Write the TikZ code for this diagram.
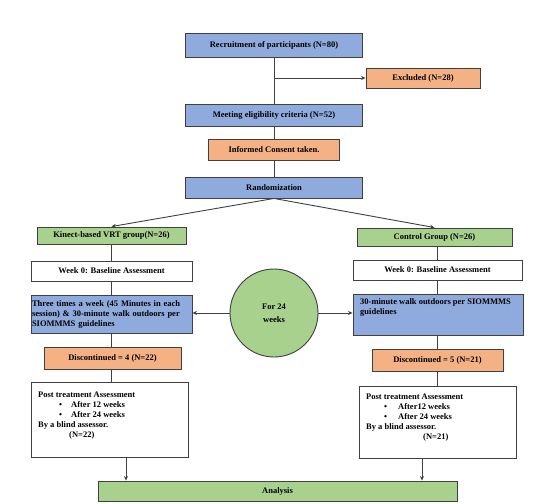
\documentclass[tikz,border=0pt]{standalone}
\usepackage{fontspec}
\setmainfont{Liberation Serif}
\usetikzlibrary{arrows.meta}
\definecolor{bluef}{HTML}{8FAADC}
\definecolor{orangef}{HTML}{F4B183}
\definecolor{greenf}{HTML}{A9D18E}
\definecolor{bord}{HTML}{404040}
\begin{document}
\begin{tikzpicture}[x=1pt,y=-1pt,
  box/.style={draw=bord, line width=0.9pt, inner sep=0pt, align=center,
    font=\bfseries\fontsize{8.5}{10}\selectfont},
  bluebox/.style={box, fill=bluef},
  orangebox/.style={box, fill=orangef},
  greenbox/.style={box, fill=greenf},
  whitebox/.style={box, fill=white},
  txt/.style={inner sep=0pt, align=left, font=\bfseries\fontsize{8.5}{10}\selectfont},
  conn/.style={draw=bord, line width=0.9pt},
  arr/.style={conn, -{Stealth[length=4.5pt,width=4pt]}}
]
\useasboundingbox (0,0) rectangle (550,504);
\fill[white] (0,0) rectangle (550,504);

% top column
\node[bluebox, minimum width=177pt, minimum height=24pt] (rec) at (274,45) {Recruitment of participants (N=80)};
\node[orangebox, minimum width=114pt, minimum height=20pt] (exc) at (423,78) {Excluded (N=28)};
\node[bluebox, minimum width=177pt, minimum height=22pt] (elig) at (274,115) {Meeting eligibility criteria (N=52)};
\node[orangebox, minimum width=131pt, minimum height=21pt] (cons) at (274,149.5) {Informed Consent taken.};
\node[bluebox, minimum width=177pt, minimum height=21pt] (rand) at (274,187.5) {Randomization};

% left column
\node[greenbox, minimum width=149pt, minimum height=17pt] (kin) at (111.5,235.5) {Kinect-based VRT group(N=26)};
\node[whitebox, minimum width=161pt, minimum height=20pt] (wkL) at (111.5,271) {Week 0: Baseline Assessment};
\node[bluebox, minimum width=161pt, minimum height=38pt, text width=159pt, align=left] (thL) at (111.5,314)
  {\fontsize{8.5}{10}\selectfont Three times a week (45 Minutes in each\\session) \& 30-minute walk outdoors per\\SIOMMMS guidelines};
\node[orangebox, minimum width=137pt, minimum height=22pt] (disL) at (112.5,358) {Discontinued = 4 (N=22)};
\node[whitebox, minimum width=157pt, minimum height=75pt] (postL) at (109.5,419.5) {};
\node[txt, anchor=north west] (postLt) at (38,391.5) {\fontsize{8.5}{11}\selectfont
  Post treatment Assessment\\
  \hspace*{21pt}\makebox[12pt][l]{\textbullet}After 12 weeks\\
  \hspace*{21pt}\makebox[12pt][l]{\textbullet}After 24 weeks\\
  By a blind assessor.\\
  \hspace*{31pt}(N=22)};

% right column
\node[greenbox, minimum width=155pt, minimum height=18pt] (ctl) at (434.5,237) {Control Group (N=26)};
\node[whitebox, minimum width=169pt, minimum height=20pt] (wkR) at (437.5,270) {Week 0: Baseline Assessment};
\node[bluebox, minimum width=170pt, minimum height=41pt] (thR) at (438,314.5) {};
\node[txt, anchor=north west] (thRt) at (360,298) {\fontsize{8.5}{9.5}\selectfont 30-minute walk outdoors per SIOMMMS\\guidelines};
\node[orangebox, minimum width=131pt, minimum height=22pt] (disR) at (437.5,360) {Discontinued = 5 (N=21)};
\node[whitebox, minimum width=157pt, minimum height=72pt] (postR) at (437.5,422) {};
\node[txt, anchor=north west] (postRt) at (366,393.5) {\fontsize{8.5}{11}\selectfont
  Post treatment Assessment\\
  \hspace*{18pt}\makebox[14pt][l]{\textbullet}After12 weeks\\
  \hspace*{18pt}\makebox[14pt][l]{\textbullet}After 24 weeks\\
  By a blind assessor.\\
  \hspace*{57pt}(N=21)};

% circle
\node[draw=bord, line width=0.9pt, fill=greenf, circle, minimum size=88pt, inner sep=0pt, align=center,
  font=\bfseries\fontsize{8.5}{13}\selectfont] (circ) at (274,313) {For 24\\weeks};

% analysis
\node[greenbox, minimum width=359pt, minimum height=20pt] (anal) at (277.5,491) {Analysis};

% connectors
\coordinate (exj) at (274,78);
\draw[conn] (rec.south) -- (elig.north);
\draw[arr] (exj) -- (exc.west);
\draw[conn] (elig.south) -- (cons.north);
\draw[conn] (cons.south) -- (rand.north);
\draw[arr] (rand.south) -- (kin.north);
\draw[arr] (rand.south) -- (ctl.north);

\draw[conn] (kin.south) -- (kin.south |- wkL.north);
\draw[conn] (wkL.south) -- (thL.north);
\draw[conn] (thL.south) -- (thL.south |- disL.north);
\draw[conn] (thL.south |- disL.south) -- (thL.south |- postL.north);

\draw[conn] (wkR.north) -- (wkR.north |- ctl.south);
\draw[conn] (wkR.south) -- (wkR.south |- thR.north);
\draw[conn] (disR.north) -- (disR.north |- thR.south);
\draw[conn] (disR.south) -- (disR.south |- postR.north);

\draw[arr] (circ.west) -- (thL.east |- circ.west);
\draw[arr] (circ.east) -- (thR.west |- circ.east);

\coordinate (aL) at (126,0);
\coordinate (aR) at (422,0);
\draw[arr] (postL.south -| aL) -- (anal.north -| aL);
\draw[arr] (postR.south -| aR) -- (anal.north -| aR);
\end{tikzpicture}
\end{document}
